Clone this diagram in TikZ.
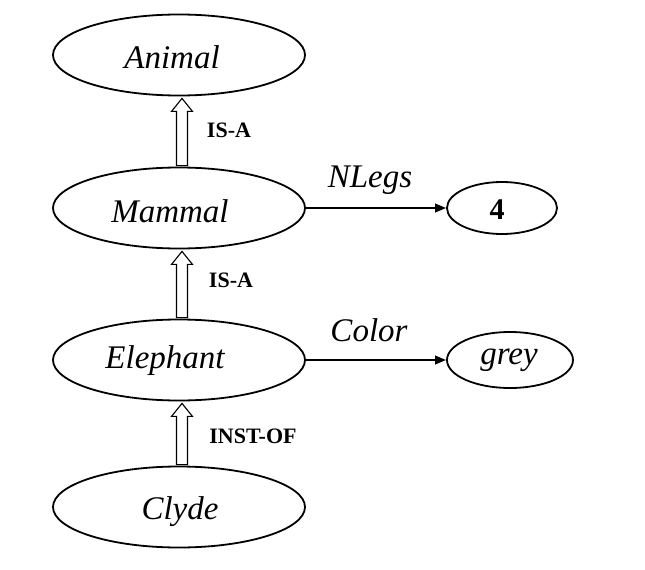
\documentclass[tikz,border=0pt]{standalone}
\usepackage{fontspec}
\setmainfont{Liberation Serif}
\usetikzlibrary{shapes.geometric,arrows.meta,calc}
\begin{document}
\begin{tikzpicture}[x=1pt,y=1pt,
  ell/.style={draw, ellipse, line width=1.8pt, inner sep=0pt},
  bigell/.style={ell, minimum width=252pt, minimum height=81pt},
  nametext/.style={font=\fontsize{33}{36}\selectfont\itshape, inner sep=0pt, anchor=base},
  reltext/.style={font=\fontsize{22}{24}\selectfont\bfseries, inner sep=0pt, anchor=base},
  attr/.style={line width=2.2pt, -{Triangle[length=11pt,width=8.5pt]}},
  hollow/.style={draw, line width=1.1pt, fill=white}
]
\useasboundingbox (0,0) rectangle (645,-570);
% left column ellipses
\node[bigell] (animal) at (179,-55) {};
\node[bigell] (mammal) at (179,-208) {};
\node[bigell] (elephant) at (179,-360) {};
\node[bigell] (clyde) at (179,-507) {};
\node[nametext] (tanimal) at (172,-68) {Animal};
\node[nametext] (tmammal) at (170,-222) {Mammal};
\node[nametext] (telephant) at (165,-368) {Elephant};
\node[nametext] (tclyde) at (180,-519) {Clyde};
% right ellipses
\node[ell, minimum width=110pt, minimum height=52pt] (four) at (502,-208) {};
\node[ell, minimum width=126pt, minimum height=56pt] (grey) at (510,-360) {};
\node[font=\fontsize{30}{32}\selectfont\bfseries, inner sep=0pt, anchor=base] (tfour) at (497,-219) {4};
\node[nametext] (tgrey) at (509,-364) {grey};
% attribute arrows
\draw[attr] (mammal.east) -- (four.west);
\draw[attr] (elephant.east) -- (grey.west);
\node[nametext] (nlegs) at (370,-187) {NLegs};
\node[nametext] (color) at (369,-341) {Color};
% hollow arrows
\foreach \s/\t in {mammal/animal, elephant/mammal, clyde/elephant}{
  \path[hollow] let \p1=($(\s.north)+(3,1)$), \p2=($(\t.south)+(3,-2)$) in
    (\x1-5.5,\y1) -- (\x1-5.5,\y2-13) -- (\x1-10.5,\y2-13) -- (\x1,\y2)
    -- (\x1+10.5,\y2-13) -- (\x1+5.5,\y2-13) -- (\x1+5.5,\y1) -- cycle;
}
\node[reltext] (isa1) at (229,-137) {IS-A};
\node[reltext] (isa2) at (231,-287) {IS-A};
\node[reltext] (instof) at (253,-443) {INST-OF};
\end{tikzpicture}
\end{document}
